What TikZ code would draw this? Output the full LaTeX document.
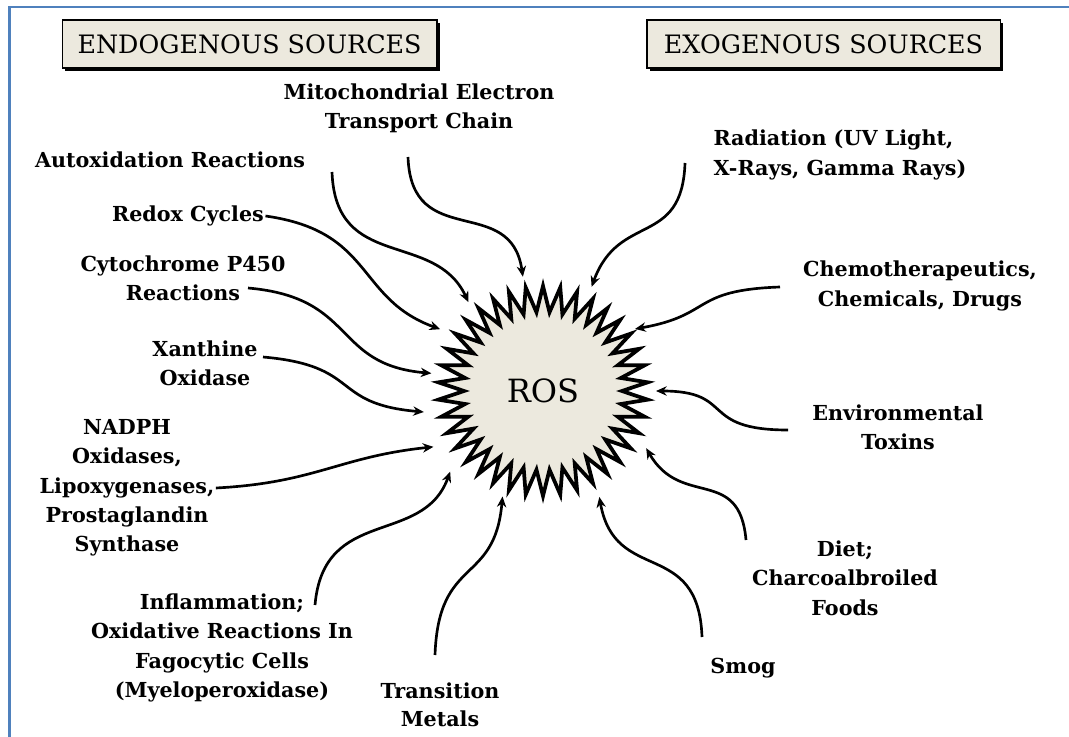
\documentclass[tikz,border=0pt]{standalone}
\usepackage{fontspec}
\setmainfont{DejaVu Serif}
\usetikzlibrary{arrows.meta,calc,shapes.geometric,shadows}
\definecolor{paper}{RGB}{236,233,222}
\definecolor{frameblue}{RGB}{79,129,189}
\newcommand{\srcfont}{\fontsize{15.5}{22}\selectfont\bfseries}
\tikzset{
  frame/.style={frameblue, line width=2pt},
  header/.style={draw, line width=1pt, fill=paper, font=\fontsize{19}{22}\selectfont,
    minimum height=36pt, inner sep=0pt,
    drop shadow={shadow xshift=2.2pt, shadow yshift=-2.2pt, fill=black, opacity=1}},
  source/.style={font=\srcfont, align=center, inner sep=1pt},
  feed/.style={-{Stealth[length=8pt,width=7pt]}, line width=2pt},
  burst/.style={star, star points=38, star point ratio=1.33, minimum size=157.5pt,
    draw, line width=2.8pt, fill=paper, font=\fontsize{24}{28}\selectfont},
}

\begin{document}
\begin{tikzpicture}[x=0.75pt,y=0.75pt]
  \useasboundingbox (0,0) rectangle (1069,-737);

  % Frame
  \draw[frame] (9.3,-737) -- (9.3,-7) -- (1069,-7);

  % Headers
  \node[header, minimum width=281pt] (endo) at (249.5,-44) {ENDOGENOUS SOURCES};
  \node[header, minimum width=265pt] (exo) at (823.5,-44) {EXOGENOUS SOURCES};

  % ROS
  \node[burst] (ros) at (543,-391) {ROS};

  % Endogenous sources
  \node[source] (mito) at (419,-108) {Mitochondrial Electron\\Transport Chain};
  \node[source] (autox) at (170,-160) {Autoxidation Reactions};
  \node[source] (redox) at (188,-216) {Redox Cycles};
  \node[source] (cyto) at (183,-278) {Cytochrome P450\\Reactions};
  \node[source] (xanth) at (205,-363) {Xanthine\\Oxidase};
  \node[source] (nadph) at (127,-488) {NADPH\\Oxidases,\\Lipoxygenases,\\Prostaglandin\\Synthase};
  \node[source] (inflam) at (222,-648) {Inflammation;\\Oxidative Reactions In\\Fagocytic Cells\\(Myeloperoxidase)};
  \node[source, font=\fontsize{15.5}{21}\selectfont\bfseries] (trans) at (440,-705) {Transition\\Metals};

  % Exogenous sources
  \node[source, align=left, anchor=west] (rad) at (712,-155) {Radiation (UV Light,\\X-Rays, Gamma Rays)};
  \node[source] (chemo) at (920,-286) {Chemotherapeutics,\\Chemicals, Drugs};
  \node[source] (env) at (898,-427) {Environmental\\Toxins};
  \node[source] (diet) at (845,-578) {Diet;\\Charcoalbroiled\\Foods};
  \node[source] (smog) at (743,-668) {Smog};

  % Arrow starts
  \coordinate (s-mito) at (408,-157);
  \coordinate (s-autox) at (332,-172);
  \coordinate (s-cyto) at (248,-288);
  \coordinate (s-xanth) at (263,-357);
  \coordinate (s-inflam) at (315,-605);
  \coordinate (s-trans) at (435,-655);
  \coordinate (s-rad) at (685,-163);
  \coordinate (s-chemo) at (780,-287);
  \coordinate (s-env) at (788,-430);
  \coordinate (s-diet) at (746,-540);
  \coordinate (s-smog) at (702,-637);

  % Arrows
  \draw[feed] (s-mito) .. controls +(-88:95) and +(98:85) .. ($(ros)+(100:116)$);
  \draw[feed] (s-autox) .. controls +(-88:100) and +(115:80) .. ($(ros)+(130:116)$);
  \draw[feed] (redox.east) .. controls +(-8:110) and +(160:90) .. ($(ros)+(149:120)$);
  \draw[feed] (s-cyto) .. controls +(-5:110) and +(175:100) .. ($(ros)+(171:113)$);
  \draw[feed] (s-xanth) .. controls +(-5:100) and +(175:95) .. ($(ros)+(190:121)$);
  \draw[feed] (nadph.east) .. controls +(3:100) and +(186:95) .. ($(ros)+(207:123)$);
  \draw[feed] (s-inflam) .. controls +(85:100) and +(-110:80) .. ($(ros)+(221:123)$);
  \draw[feed] (s-trans) .. controls +(88:100) and +(-95:90) .. ($(ros)+(249:113)$);
  \draw[feed] (s-smog) .. controls +(92:100) and +(-80:90) .. ($(ros)+(298:120)$);
  \draw[feed] (s-diet) .. controls +(95:75) and +(-60:70) .. ($(ros)+(331:118)$);
  \draw[feed] (s-env) .. controls +(180:90) and +(0:80) .. ($(ros)+(0:113)$);
  \draw[feed] (s-chemo) .. controls +(182:90) and +(10:80) .. ($(ros)+(34:111)$);
  \draw[feed] (s-rad) .. controls +(-92:85) and +(70:80) .. ($(ros)+(65:115)$);
\end{tikzpicture}
\end{document}
